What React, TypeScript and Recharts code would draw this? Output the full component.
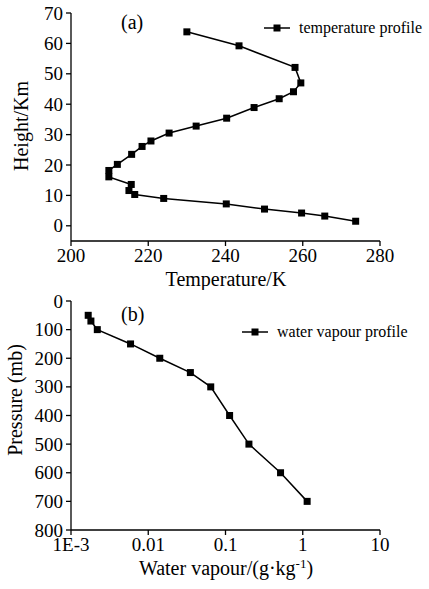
import { ScatterChart, Scatter, XAxis, YAxis } from 'recharts';

// panel (a): temperature profile, ordered by height
const heightKm = [1.5, 3.2, 4.2, 5.5, 7.2, 9.0, 10.3, 11.6, 13.6, 16.1, 18.2, 20.2, 23.5, 26.1, 27.9, 30.5, 32.8, 35.4, 38.9, 41.8, 44.1, 47.0, 52.1, 59.2, 63.8];
const temperatureK = [273.7, 265.7, 259.7, 250.1, 240.2, 224.0, 216.5, 215.0, 215.6, 209.8, 209.8, 212.0, 215.7, 218.4, 220.7, 225.4, 232.4, 240.3, 247.4, 253.9, 257.6, 259.5, 258.0, 243.5, 230.0];
const tempTicks = [200, 220, 240, 260, 280];
const heightTicks = [0, 10, 20, 30, 40, 50, 60, 70];

// panel (b): water vapour profile
const pressureMb = [50, 70, 100, 150, 200, 250, 300, 400, 500, 600, 700];
const waterVapour = [0.00167, 0.00181, 0.00219, 0.0059, 0.0141, 0.0351, 0.0644, 0.113, 0.201, 0.516, 1.14];
const vapourTicks = [0.001, 0.01, 0.1, 1, 10];
const pressureTicks = [0, 100, 200, 300, 400, 500, 600, 700, 800];

const tempData = heightKm.map((h, i) => ({ t: temperatureK[i], h }));
const vapourData = pressureMb.map((p, i) => ({ w: waterVapour[i], p }));

const FONT = '"Liberation Serif", "Times New Roman", serif';
const AXIS_LINE = { stroke: '#000', strokeWidth: 1.3 };
const TICK_LINE = { stroke: '#000', strokeWidth: 1.3 };
const TICK_SIZE = 19;
const TITLE_SIZE = 20;

const fmtVapour = (v: number) => (v === 0.001 ? '1E-3' : String(v));

// custom tick text so the serif face actually sticks
const XTick = (props: any) => {
  const { x, y, payload, fmt } = props;
  return (
    <text x={x} y={y} dy={14} textAnchor="middle" fontFamily={FONT} fontSize={TICK_SIZE} fill="#000">
      {fmt ? fmt(payload.value) : payload.value}
    </text>
  );
};

const YTick = (props: any) => {
  const { x, y, payload } = props;
  return (
    <text x={x} y={y} dy={6.5} textAnchor="end" fontFamily={FONT} fontSize={TICK_SIZE} fill="#000">
      {payload.value}
    </text>
  );
};

const Square = (props: any) => (
  <rect x={props.cx - 3.5} y={props.cy - 3.5} width={7} height={7} fill="#000" />
);

// legend drawn as plain svg so it does not push the plot area down
const LegendMark = ({ x, y, label }: { x: number; y: number; label: string }) => (
  <g>
    <line x1={x} y1={y} x2={x + 26} y2={y} stroke="#000" strokeWidth={1.5} />
    <rect x={x + 9.5} y={y - 3.5} width={7} height={7} fill="#000" />
    <text x={x + 35} y={y + 5} fontFamily={FONT} fontSize={16} fill="#000">
      {label}
    </text>
  </g>
);

export default function App() {
  return (
    <div style={{ position: 'absolute', left: 0, top: 0, width: 429, height: 589, background: '#fff', fontFamily: FONT }}>
      <ScatterChart width={429} height={290} margin={{ top: 13, right: 49, bottom: 0, left: 0 }}>
        <XAxis
          type="number"
          dataKey="t"
          domain={[200, 280]}
          ticks={tempTicks}
          interval={0}
          tick={<XTick />}
          tickSize={5}
          tickMargin={2}
          axisLine={AXIS_LINE}
          tickLine={TICK_LINE}
          height={49}
        />
        <YAxis
          type="number"
          dataKey="h"
          domain={[-5, 70]}
          ticks={heightTicks}
          interval={0}
          tick={<YTick />}
          tickSize={5}
          tickMargin={3}
          axisLine={AXIS_LINE}
          tickLine={TICK_LINE}
          width={71}
        />
        <Scatter
          data={tempData}
          shape={Square}
          line={{ stroke: '#000', strokeWidth: 1.5 }}
          lineType="joint"
          isAnimationActive={false}
        />
        <LegendMark x={264} y={28} label="temperature profile" />
        <text x={121} y={29} fontFamily={FONT} fontSize={TITLE_SIZE} fill="#000">(a)</text>
        <text x={226} y={286} textAnchor="middle" fontFamily={FONT} fontSize={TITLE_SIZE} fill="#000">
          Temperature/K
        </text>
        <text
          x={21}
          y={126}
          textAnchor="middle"
          dominantBaseline="central"
          transform="rotate(-90 21 126)"
          fontFamily={FONT}
          fontSize={TITLE_SIZE}
          fill="#000"
        >
          Height/Km
        </text>
      </ScatterChart>
      <ScatterChart width={429} height={299} margin={{ top: 11, right: 49, bottom: 0, left: 0 }}>
        <XAxis
          type="number"
          dataKey="w"
          scale="log"
          domain={[0.001, 10]}
          ticks={vapourTicks}
          interval={0}
          tick={<XTick fmt={fmtVapour} />}
          tickSize={5}
          tickMargin={2}
          axisLine={AXIS_LINE}
          tickLine={TICK_LINE}
          allowDataOverflow
          height={59}
        />
        <YAxis
          type="number"
          dataKey="p"
          reversed
          domain={[0, 800]}
          ticks={pressureTicks}
          interval={0}
          tick={<YTick />}
          tickSize={5}
          tickMargin={3}
          axisLine={AXIS_LINE}
          tickLine={TICK_LINE}
          width={71}
        />
        <Scatter
          data={vapourData}
          shape={Square}
          line={{ stroke: '#000', strokeWidth: 1.5 }}
          lineType="joint"
          isAnimationActive={false}
        />
        <LegendMark x={242} y={42} label="water vapour profile" />
        <text x={121} y={31} fontFamily={FONT} fontSize={TITLE_SIZE} fill="#000">(b)</text>
        <text x={226} y={285} textAnchor="middle" fontFamily={FONT} fontSize={TITLE_SIZE} fill="#000">
          Water vapour/(g·kg<tspan dy={-7} fontSize={13}>-1</tspan><tspan dy={7}>)</tspan>
        </text>
        <text
          x={15}
          y={110}
          textAnchor="middle"
          dominantBaseline="central"
          transform="rotate(-90 15 110)"
          fontFamily={FONT}
          fontSize={TITLE_SIZE}
          fill="#000"
        >
          Pressure (mb)
        </text>
      </ScatterChart>
    </div>
  );
}
